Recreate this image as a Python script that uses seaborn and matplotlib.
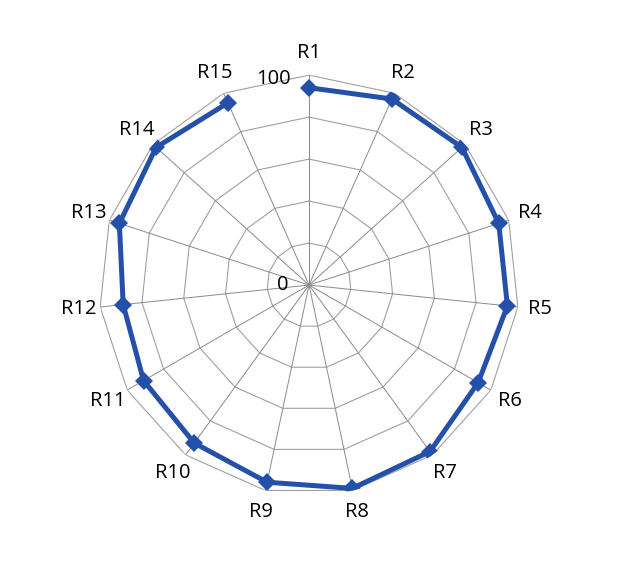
import numpy as np
import pandas as pd
import seaborn as sns
from matplotlib import pyplot as plt

# values
categories = ["R1", "R2", "R3", "R4", "R5", "R6", "R7", "R8",
              "R9", "R10", "R11", "R12", "R13", "R14", "R15"]
values = [94, 97, 98, 95, 95, 93, 98, 99, 96, 93, 91, 89, 95, 98, 95]
ring_levels = [20, 40, 60, 80, 100]
r_max = 100

sns.set_style("white")
plt.rcParams["font.family"] = ["Open Sans", "DejaVu Sans"]
plt.rcParams["text.color"] = "black"

n = len(categories)
angles = np.linspace(0, 2 * np.pi, n, endpoint=False)

df = pd.DataFrame({
    "angle": np.append(angles, angles[0]),
    "value": values + values[:1],
})

fig = plt.figure(figsize=(6.19, 5.69), dpi=100)
ax = fig.add_axes([0.160, 0.130, 0.6785, 0.738], projection="polar")
ax.set_theta_zero_location("N")
ax.set_theta_direction(-1)
ax.set_ylim(0, r_max)
ax.grid(False)
ax.spines["polar"].set_visible(False)
ax.set_xticks([])
ax.set_yticks([])

# polygon rings and spokes
closed = np.append(angles, angles[0])
for lvl in ring_levels:
    ax.plot(closed, [lvl] * len(closed), color="#a0a0a0", lw=0.8, zorder=1)
for a in angles:
    ax.plot([a, a], [0, r_max], color="#8a8a8a", lw=0.7, zorder=1)

sns.lineplot(data=df, x="angle", y="value", sort=False, ax=ax,
             color="#2550aa", lw=3.6, marker="D", markersize=9,
             markeredgewidth=0, zorder=3)
ax.set_xlabel("")
ax.set_ylabel("")

for a, lab in zip(angles, categories):
    ax.text(a, 110.5, lab, ha="center", va="center", fontsize=14.5,
            color="black", clip_on=False)

ax.annotate("100", xy=(0, r_max), xytext=(-13, -6.5), textcoords="offset points",
            ha="right", va="baseline", fontsize=14.5, color="black")
ax.annotate("0", xy=(0, 0), xytext=(-15, 0), textcoords="offset points",
            ha="right", va="center", fontsize=14.5, color="black")

plt.savefig("out.png", dpi=100)
